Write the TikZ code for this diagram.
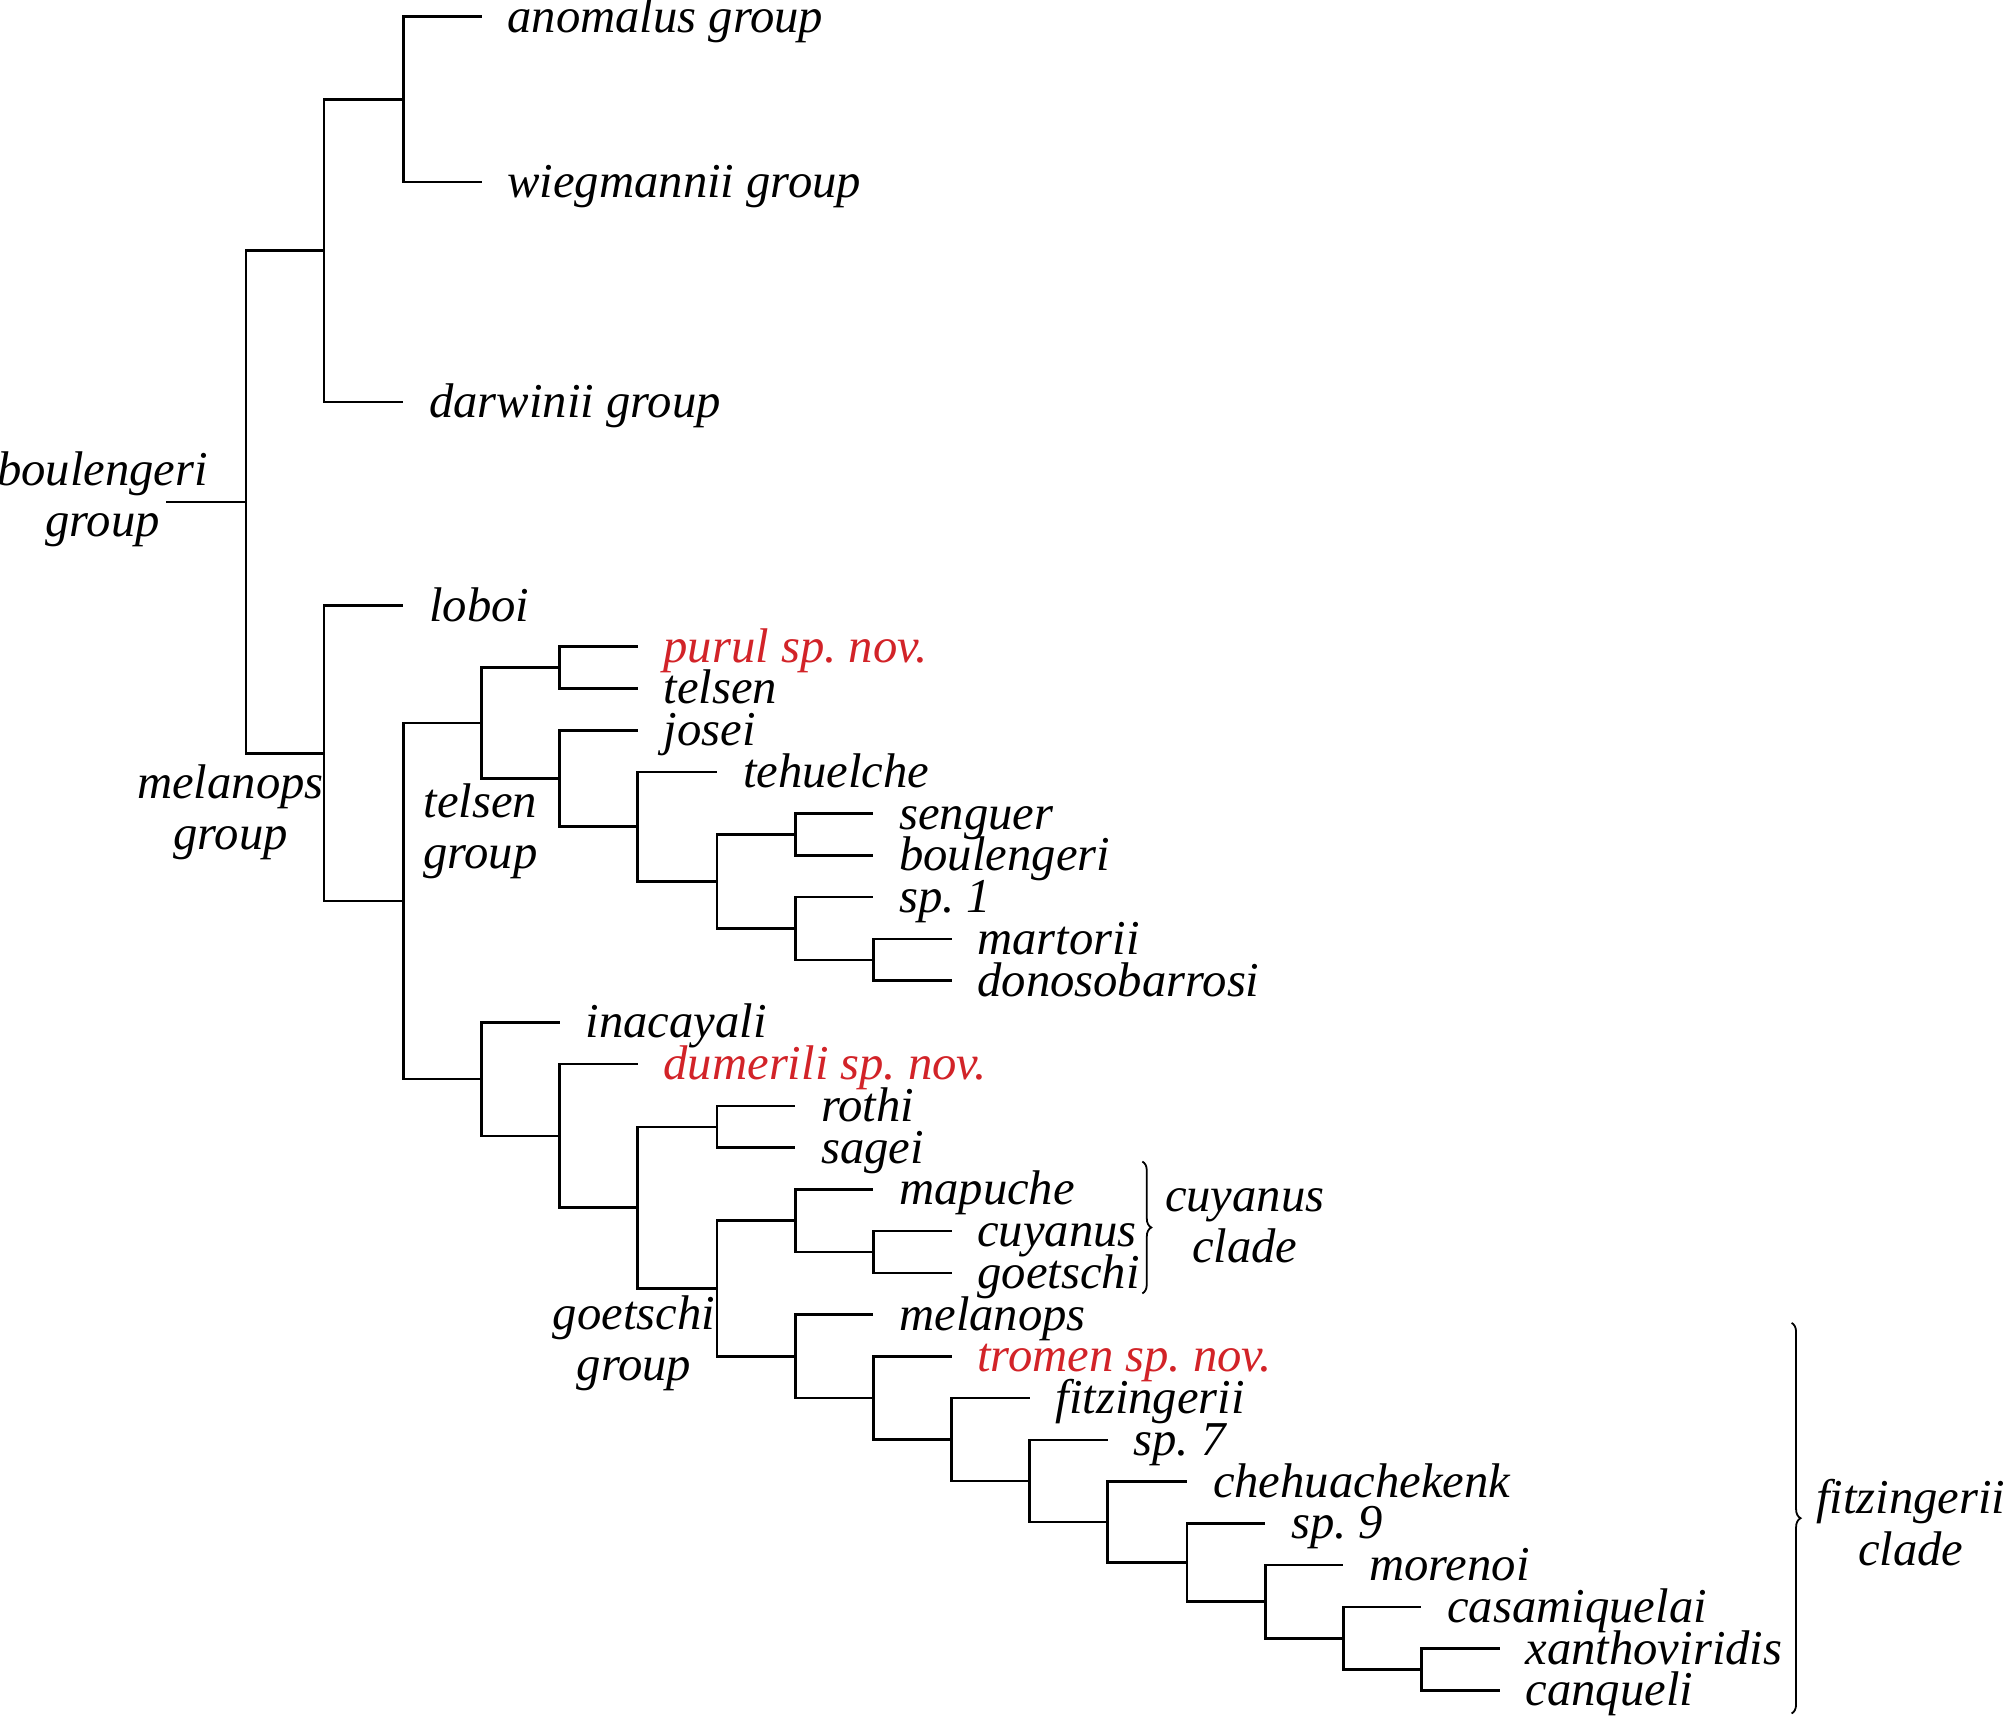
\documentclass[tikz,border=0pt]{standalone}
\usepackage{fontspec}
\setmainfont{Liberation Serif}
\usepackage{xcolor}
\usepackage{tikz}
\usetikzlibrary{decorations.pathreplacing}

\definecolor{novred}{RGB}{210,35,40}

\tikzset{
  taxon/.style={anchor=west, inner xsep=20pt, inner ysep=0pt, text height=30pt, text depth=6pt,
    font=\fontsize{38}{40}\selectfont\itshape},
  newsp/.style={taxon, text=novred},
  grouplabel/.style={align=center, inner sep=0pt, font=\fontsize{38}{40}\selectfont\itshape},
  branch/.style={line width=2pt},
  cladebrace/.style={line width=1.4pt, decorate, decoration={brace, amplitude=7pt}}
}

\begin{document}
\begin{tikzpicture}[x=1pt, y=-1pt]
    \useasboundingbox (0,0) rectangle (1568,1342);

    % 1. Tips: the large species groups
    \node[taxon, text height=26pt, text depth=2pt] (anomalus) at (376,13) {anomalus group};
    \node[taxon] (wiegmannii) at (376,142) {wiegmannii group};
    \node[taxon] (darwinii) at (315,314) {darwinii group};
    \node[taxon] (loboi) at (315,473) {loboi};

    % 2. Tips of the telsen group
    \node[newsp] (purul) at (498,505) {purul sp.\ nov.};
    \node[taxon] (telsen) at (498,537.6) {telsen};
    \node[taxon] (josei) at (498,570.2) {josei};
    \node[taxon] (tehuelche) at (560,602.8) {tehuelche};
    \node[taxon] (senguer) at (682,635.4) {senguer};
    \node[taxon] (boulengeri) at (682,668) {boulengeri};
    \node[taxon] (sp1) at (682,700.6) {sp.\ 1};
    \node[taxon] (martorii) at (743,733.2) {martorii};
    \node[taxon] (donosobarrosi) at (743,765.8) {donosobarrosi};

    % 3. Tips of the goetschi group
    \node[taxon] (inacayali) at (437,798.4) {inacayali};
    \node[newsp] (dumerili) at (498,831) {dumerili sp.\ nov.};
    \node[taxon] (rothi) at (621,863.6) {rothi};
    \node[taxon] (sagei) at (621,896.2) {sagei};
    \node[taxon] (mapuche) at (682,928.8) {mapuche};
    \node[taxon] (cuyanus) at (743,961.4) {cuyanus};
    \node[taxon] (goetschi) at (743,994) {goetschi};
    \node[taxon] (melanops) at (682,1026.6) {melanops};
    \node[newsp] (tromen) at (743,1059.2) {tromen sp.\ nov.};
    \node[taxon] (fitzingerii) at (804,1091.8) {fitzingerii};
    \node[taxon] (sp7) at (865,1124.4) {sp.\ 7};
    \node[taxon] (chehuachekenk) at (927,1157) {chehuachekenk};
    \node[taxon] (sp9) at (988,1189.6) {sp.\ 9};
    \node[taxon] (morenoi) at (1049,1222.2) {morenoi};
    \node[taxon] (casamiquelai) at (1110,1254.8) {casamiquelai};
    \node[taxon] (xanthoviridis) at (1171,1287.4) {xanthoviridis};
    \node[taxon] (canqueli) at (1171,1320) {canqueli};

    % 4. Inner nodes (x = depth, y = middle of the two daughters)
    \coordinate (root) at (130,392);
    \coordinate (nBoul) at (192,392);
    \coordinate (nUpper) at (253,195.75);
    \coordinate (nAnom) at (315,77.5);
    \coordinate (nMelan) at (253,588.3);
    \coordinate (nTelGoe) at (315,703.7);
    \coordinate (nTelsen) at (376,564.6);
    \coordinate (nPurul) at (437,521.3);
    \coordinate (nJosei) at (437,607.9);
    \coordinate (nTehu) at (498,645.6);
    \coordinate (nSeng) at (560,688.4);
    \coordinate (nSenBou) at (621,651.7);
    \coordinate (nSp1) at (621,725.05);
    \coordinate (nMart) at (682,749.5);
    \coordinate (nGoet) at (376,842.7);
    \coordinate (nDum) at (437,887);
    \coordinate (nRoth) at (498,943);
    \coordinate (nRotSag) at (560,879.9);
    \coordinate (nRest) at (560,1006.2);
    \coordinate (nMap) at (621,953.25);
    \coordinate (nCuyGoe) at (682,977.7);
    \coordinate (nMel) at (621,1059.1);
    \coordinate (nTrom) at (682,1091.7);
    \coordinate (nFitz) at (743,1124.15);
    \coordinate (nSp7) at (804,1156.5);
    \coordinate (nCheh) at (865,1188.6);
    \coordinate (nSp9) at (927,1220.2);
    \coordinate (nMor) at (988,1250.7);
    \coordinate (nCasa) at (1049,1279.25);
    \coordinate (nXanCan) at (1110,1303.7);

    % 5. Branches, upper part
    \draw[branch] (root) -- (nBoul);
    \draw[branch] (nBoul) |- (nUpper);
    \draw[branch] (nBoul) |- (nMelan);
    \draw[branch] (nUpper) |- (nAnom);
    \draw[branch] (nUpper) |- (darwinii);
    \draw[branch] (nAnom) |- (anomalus);
    \draw[branch] (nAnom) |- (wiegmannii);
    \draw[branch] (nMelan) |- (loboi);
    \draw[branch] (nMelan) |- (nTelGoe);
    \draw[branch] (nTelGoe) |- (nTelsen);
    \draw[branch] (nTelGoe) |- (nGoet);

    % 6. Branches, telsen group
    \draw[branch] (nTelsen) |- (nPurul);
    \draw[branch] (nTelsen) |- (nJosei);
    \draw[branch] (nPurul) |- (purul);
    \draw[branch] (nPurul) |- (telsen);
    \draw[branch] (nJosei) |- (josei);
    \draw[branch] (nJosei) |- (nTehu);
    \draw[branch] (nTehu) |- (tehuelche);
    \draw[branch] (nTehu) |- (nSeng);
    \draw[branch] (nSeng) |- (nSenBou);
    \draw[branch] (nSeng) |- (nSp1);
    \draw[branch] (nSenBou) |- (senguer);
    \draw[branch] (nSenBou) |- (boulengeri);
    \draw[branch] (nSp1) |- (sp1);
    \draw[branch] (nSp1) |- (nMart);
    \draw[branch] (nMart) |- (martorii);
    \draw[branch] (nMart) |- (donosobarrosi);

    % 7. Branches, goetschi group
    \draw[branch] (nGoet) |- (inacayali);
    \draw[branch] (nGoet) |- (nDum);
    \draw[branch] (nDum) |- (dumerili);
    \draw[branch] (nDum) |- (nRoth);
    \draw[branch] (nRoth) |- (nRotSag);
    \draw[branch] (nRoth) |- (nRest);
    \draw[branch] (nRotSag) |- (rothi);
    \draw[branch] (nRotSag) |- (sagei);
    \draw[branch] (nRest) |- (nMap);
    \draw[branch] (nRest) |- (nMel);
    \draw[branch] (nMap) |- (mapuche);
    \draw[branch] (nMap) |- (nCuyGoe);
    \draw[branch] (nCuyGoe) |- (cuyanus);
    \draw[branch] (nCuyGoe) |- (goetschi);
    \draw[branch] (nMel) |- (melanops);
    \draw[branch] (nMel) |- (nTrom);
    \draw[branch] (nTrom) |- (tromen);
    \draw[branch] (nTrom) |- (nFitz);
    \draw[branch] (nFitz) |- (fitzingerii);
    \draw[branch] (nFitz) |- (nSp7);
    \draw[branch] (nSp7) |- (sp7);
    \draw[branch] (nSp7) |- (nCheh);
    \draw[branch] (nCheh) |- (chehuachekenk);
    \draw[branch] (nCheh) |- (nSp9);
    \draw[branch] (nSp9) |- (sp9);
    \draw[branch] (nSp9) |- (nMor);
    \draw[branch] (nMor) |- (morenoi);
    \draw[branch] (nMor) |- (nCasa);
    \draw[branch] (nCasa) |- (casamiquelai);
    \draw[branch] (nCasa) |- (nXanCan);
    \draw[branch] (nXanCan) |- (xanthoviridis);
    \draw[branch] (nXanCan) |- (canqueli);

    % 8. Group and clade labels
    \node[grouplabel] (lblBoul) at (80,390) {boulengeri\\group};
    \node[grouplabel] (lblMelan) at (180,634) {melanops\\group};
    \node[grouplabel] (lblTelsen) at (375,649) {telsen\\group};
    \node[grouplabel] (lblGoet) at (495,1049) {goetschi\\group};
    \node[grouplabel] (lblCuy) at (972,957) {cuyanus\\clade};
    \node[grouplabel] (lblFitz) at (1492,1189) {fitzingerii\\clade};

    % 9. Braces round the two clades
    \draw[cladebrace] (892,907) -- (892,1010);
    \draw[cladebrace] (1399,1033) -- (1399,1338);
\end{tikzpicture}
\end{document}
